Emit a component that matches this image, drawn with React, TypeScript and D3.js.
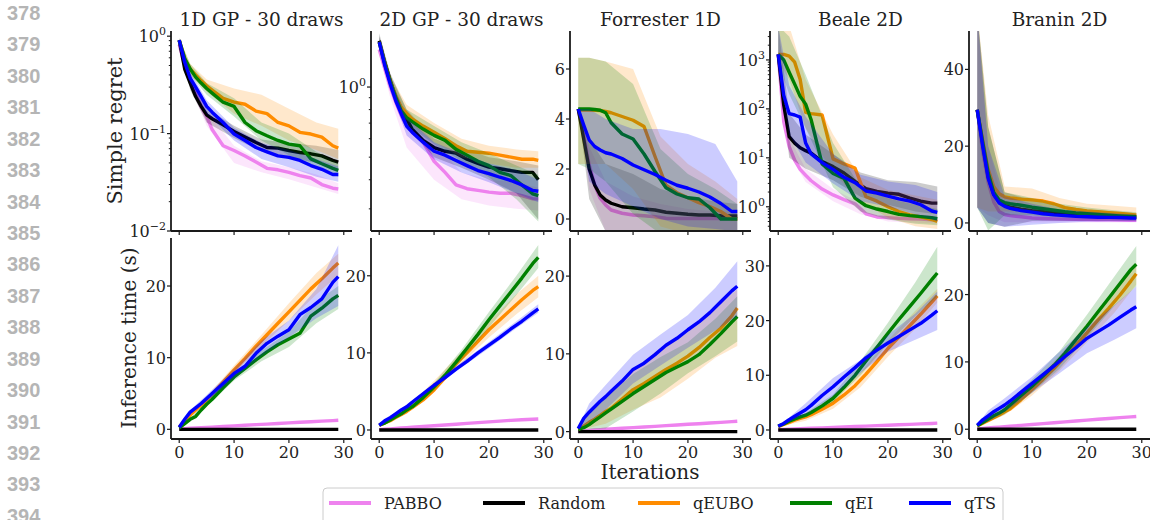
import React, { useRef, useEffect } from 'react';
import * as d3 from 'd3';

const METHODS = ['PABBO', 'Random', 'qEUBO', 'qEI', 'qTS'];
const COLORS = ['violet', 'black', 'darkorange', 'green', 'blue'];

// iterations at which the curves were read
const ITER = [0, 1, 2, 3, 4, 5, 6, 8, 10, 12, 14, 16, 18, 20, 22, 24, 26, 28, 29];
// iterations at which the shaded bands were read
const BAND_ITER = [0, 2, 5, 10, 15, 20, 25, 29];

const TITLES = ['1D GP - 30 draws', '2D GP - 30 draws', 'Forrester 1D', 'Beale 2D', 'Branin 2D'];
const LINE_NUMBERS = [378, 379, 380, 381, 382, 383, 384, 385, 386, 387, 388, 389, 390, 391, 392, 393, 394];

// ---- simple regret (top row), rows in METHODS order ----
const REGRET_GP1D = [
  [0.82, 0.5, 0.37, 0.26, 0.19, 0.15, 0.11, 0.075, 0.067, 0.059, 0.051, 0.044, 0.0425, 0.04, 0.037, 0.035, 0.03, 0.0275, 0.027],
  [0.91, 0.46, 0.33, 0.24, 0.19, 0.156, 0.142, 0.123, 0.105, 0.092, 0.081, 0.072, 0.071, 0.067, 0.064, 0.062, 0.059, 0.053, 0.051],
  [0.91, 0.59, 0.46, 0.4, 0.35, 0.31, 0.28, 0.23, 0.21, 0.2, 0.17, 0.16, 0.13, 0.12, 0.103, 0.099, 0.092, 0.075, 0.071],
  [0.91, 0.59, 0.46, 0.38, 0.33, 0.29, 0.26, 0.21, 0.19, 0.13, 0.107, 0.095, 0.085, 0.078, 0.075, 0.055, 0.049, 0.044, 0.042],
  [0.91, 0.54, 0.37, 0.3, 0.24, 0.19, 0.166, 0.13, 0.099, 0.085, 0.072, 0.065, 0.059, 0.057, 0.053, 0.047, 0.043, 0.038, 0.038],
];
const REGRET_GP1D_LO = [
  [0.78, 0.3, 0.12, 0.05, 0.04, 0.034, 0.028, 0.024],
  [0.85, 0.28, 0.13, 0.09, 0.065, 0.057, 0.05, 0.042],
  [0.85, 0.4, 0.27, 0.16, 0.12, 0.085, 0.068, 0.055],
  [0.85, 0.4, 0.25, 0.15, 0.085, 0.06, 0.045, 0.036],
  [0.85, 0.32, 0.16, 0.085, 0.055, 0.045, 0.036, 0.032],
];
const REGRET_GP1D_HI = [
  [0.86, 0.42, 0.17, 0.075, 0.052, 0.045, 0.038, 0.031],
  [0.95, 0.4, 0.18, 0.12, 0.087, 0.08, 0.075, 0.068],
  [0.95, 0.52, 0.36, 0.29, 0.25, 0.18, 0.13, 0.112],
  [0.95, 0.52, 0.33, 0.23, 0.13, 0.1, 0.065, 0.05],
  [0.95, 0.43, 0.22, 0.115, 0.08, 0.068, 0.055, 0.046],
];

const REGRET_GP2D = [
  [1.45, 1.2, 1.0, 0.86, 0.755, 0.68, 0.64, 0.58, 0.48, 0.43, 0.38, 0.366, 0.36, 0.354, 0.35, 0.35, 0.342, 0.331, 0.331],
  [1.58, 1.28, 1.07, 0.905, 0.81, 0.73, 0.66, 0.59, 0.55, 0.53, 0.52, 0.49, 0.47, 0.453, 0.446, 0.438, 0.43, 0.43, 0.4],
  [1.56, 1.26, 1.05, 0.92, 0.82, 0.77, 0.73, 0.68, 0.64, 0.6, 0.56, 0.53, 0.525, 0.52, 0.51, 0.5, 0.49, 0.49, 0.484],
  [1.56, 1.26, 1.05, 0.905, 0.79, 0.74, 0.71, 0.66, 0.62, 0.59, 0.54, 0.51, 0.48, 0.46, 0.43, 0.417, 0.38, 0.348, 0.342],
  [1.56, 1.24, 1.03, 0.875, 0.77, 0.68, 0.64, 0.58, 0.53, 0.51, 0.484, 0.46, 0.438, 0.425, 0.41, 0.397, 0.38, 0.36, 0.357],
];
const REGRET_GP2D_LO = [
  [1.4, 0.9, 0.55, 0.4, 0.33, 0.31, 0.3, 0.295],
  [1.5, 1.0, 0.68, 0.5, 0.45, 0.4, 0.35, 0.27],
  [1.5, 0.98, 0.72, 0.58, 0.5, 0.47, 0.45, 0.45],
  [1.5, 0.98, 0.69, 0.57, 0.48, 0.41, 0.33, 0.265],
  [1.5, 0.97, 0.62, 0.49, 0.43, 0.39, 0.35, 0.32],
];
const REGRET_GP2D_HI = [
  [1.5, 1.08, 0.78, 0.58, 0.43, 0.4, 0.39, 0.37],
  [1.7, 1.15, 0.8, 0.6, 0.55, 0.5, 0.48, 0.46],
  [1.65, 1.12, 0.84, 0.7, 0.6, 0.56, 0.54, 0.53],
  [1.65, 1.12, 0.8, 0.68, 0.58, 0.52, 0.46, 0.42],
  [1.65, 1.1, 0.74, 0.58, 0.52, 0.47, 0.44, 0.4],
];

const REGRET_FORR = [
  [4.4, 3.36, 2.16, 1.36, 0.83, 0.56, 0.36, 0.23, 0.16, 0.13, 0.09, 0.03, 0.02, 0.02, 0.02, 0.02, 0.02, 0.02, 0.02],
  [4.4, 3.2, 2.0, 1.36, 0.96, 0.76, 0.63, 0.49, 0.45, 0.4, 0.36, 0.27, 0.23, 0.19, 0.16, 0.16, 0.13, 0.12, 0.12],
  [4.36, 4.36, 4.36, 4.35, 4.34, 4.3, 4.25, 4.1, 3.95, 3.7, 2.5, 1.35, 1.05, 0.85, 0.65, 0.5, 0.3, 0.0, 0.0],
  [4.4, 4.4, 4.4, 4.38, 4.35, 4.25, 3.85, 3.4, 3.2, 2.6, 1.9, 1.25, 1.0, 0.85, 0.8, 0.45, 0.0, 0.0, 0.0],
  [4.4, 3.76, 3.16, 2.9, 2.76, 2.65, 2.6, 2.42, 2.16, 1.97, 1.78, 1.55, 1.35, 1.23, 1.08, 0.88, 0.62, 0.3, 0.3],
];
const REGRET_FORR_LO = [
  [4.4, 1.2, -0.5, -0.6, -0.6, -0.6, -0.6, -0.6],
  [4.4, 0.8, -0.5, -0.6, -0.6, -0.6, -0.6, -0.6],
  [2.2, 2.2, 2.2, 1.2, -0.3, -0.6, -0.6, -0.6],
  [2.2, 2.0, 1.5, 0.2, -0.6, -0.6, -0.6, -0.6],
  [4.4, 1.5, 1.0, 0.5, 0.0, -0.3, -0.4, -0.5],
];
const REGRET_FORR_HI = [
  [4.4, 2.9, 1.5, 0.9, 0.6, 0.4, 0.3, 0.3],
  [4.4, 3.2, 2.2, 1.8, 1.2, 0.9, 0.7, 0.6],
  [6.45, 6.45, 6.3, 6.0, 3.3, 2.2, 1.5, 0.8],
  [6.45, 6.45, 6.3, 5.4, 2.8, 1.8, 1.2, 0.6],
  [4.4, 4.4, 4.0, 3.6, 3.6, 3.4, 3.0, 1.5],
];

const REGRET_BEALE = [
  [1300, 55, 17, 9, 5.8, 4.4, 3.4, 2.3, 1.75, 1.4, 1.15, 0.72, 0.62, 0.6, 0.58, 0.57, 0.56, 0.54, 0.54],
  [1300, 120, 27, 20, 16, 14, 12.5, 8.4, 6.6, 4.9, 3.3, 2.35, 2.05, 1.9, 1.8, 1.5, 1.3, 1.19, 1.19],
  [1300, 1300, 1200, 900, 400, 85, 80, 75, 9.5, 7.5, 6.2, 1.6, 1.3, 1.0, 0.8, 0.68, 0.62, 0.55, 0.5],
  [1300, 1000, 560, 320, 180, 125, 60, 7.5, 4.8, 3.8, 1.5, 1.05, 0.9, 0.8, 0.7, 0.66, 0.63, 0.6, 0.57],
  [1300, 190, 80, 75, 68, 20, 12, 8, 5.8, 4.0, 3.1, 2.1, 1.9, 1.65, 1.45, 1.3, 1.1, 0.82, 0.77],
];
const REGRET_BEALE_LO = [
  [1300, 12, 3.2, 1.3, 0.7, 0.5, 0.47, 0.45],
  [1000, 10, 6, 3.5, 1.6, 1.1, 0.8, 0.7],
  [900, 400, 40, 5, 1.3, 0.6, 0.4, 0.35],
  [900, 200, 40, 2.5, 0.8, 0.55, 0.45, 0.42],
  [800, 30, 8, 3, 1.3, 1.0, 0.7, 0.5],
];
const REGRET_BEALE_HI = [
  [1300, 25, 6, 2.3, 1.2, 0.75, 0.7, 0.65],
  [5000, 80, 30, 12, 5, 3.5, 3.2, 2.6],
  [5000, 5000, 400, 30, 4, 2.2, 1.7, 1.4],
  [5000, 3000, 500, 20, 2.5, 1.5, 1.1, 0.9],
  [5000, 300, 70, 12, 4.5, 3.3, 2.8, 2.0],
];

const REGRET_BRANIN = [
  [29.5, 18.5, 10.5, 5.5, 3.0, 2.2, 1.9, 1.6, 1.3, 1.15, 1.05, 1.0, 0.95, 0.9, 0.85, 0.8, 0.75, 0.7, 0.7],
  [29.5, 20.5, 12, 7.5, 5.5, 4.6, 4.1, 3.6, 3.2, 2.9, 2.6, 2.3, 2.1, 1.9, 1.8, 1.7, 1.6, 1.5, 1.5],
  [29.5, 21.5, 14, 9.5, 7.6, 6.8, 6.5, 6.2, 6.0, 5.7, 5.0, 4.0, 3.5, 3.1, 2.9, 2.7, 2.5, 2.2, 2.0],
  [29.5, 21, 13, 8, 6, 5.3, 5, 4.6, 4.1, 3.7, 3.3, 2.9, 2.6, 2.4, 2.2, 2.0, 1.85, 1.7, 1.6],
  [29.5, 20, 11.6, 7.3, 5.2, 4.3, 3.8, 3.2, 2.8, 2.4, 2.1, 1.9, 1.7, 1.6, 1.5, 1.45, 1.4, 1.3, 1.25],
];
const REGRET_BRANIN_LO = [
  [4, 2, 0.2, 0.1, 0.1, 0.1, 0.1, 0.1],
  [4, 0, -1, 0.5, 0.5, 0.5, 0.5, 0.5],
  [4, 3, 3, 3, 2.5, 2, 1.5, 1.2],
  [4, -2, 2, 2, 1.5, 1.2, 1, 0.9],
  [4, 0, -1, -0.5, 0, 0.3, 0.4, 0.4],
];
const REGRET_BRANIN_HI = [
  [55, 20, 4, 2.5, 2, 1.8, 1.6, 1.5],
  [55, 25, 8, 6, 4.5, 3.5, 3, 2.5],
  [55, 28, 9.5, 9, 6.5, 5, 4.5, 4.0],
  [55, 25, 8, 6.5, 5, 4, 3.3, 2.8],
  [55, 20, 7, 5, 3.5, 3, 2.5, 2.2],
];

// ---- inference time in seconds (bottom row) ----
const TIME_GP1D = [
  [0.05, 0.1, 0.15, 0.19, 0.23, 0.27, 0.31, 0.4, 0.48, 0.57, 0.65, 0.73, 0.82, 0.9, 0.98, 1.06, 1.14, 1.22, 1.27],
  [0, 0, 0, 0, 0, 0, 0, 0, 0, 0, 0, 0, 0, 0, 0, 0, 0, 0, 0],
  [0.3, 1.2, 2.0, 2.7, 3.4, 4.1, 4.9, 6.6, 8.3, 9.9, 11.6, 13.2, 14.8, 16.4, 18.0, 19.6, 21.0, 22.5, 23.2],
  [0.2, 0.8, 1.4, 1.8, 2.7, 3.5, 4.2, 5.8, 7.3, 8.5, 9.7, 10.8, 11.8, 12.6, 13.4, 15.8, 16.9, 18.2, 18.7],
  [0.3, 1.4, 2.4, 3.0, 3.6, 4.3, 5.0, 6.4, 7.8, 8.8, 10.6, 12.0, 13.0, 13.9, 16.0, 17.0, 18.2, 20.5, 21.3],
];
const TIME_GP1D_LO = [
  null,
  null,
  [0.2, 1.8, 3.8, 7.8, 11.6, 15.2, 18.8, 21.5],
  [0.1, 1.2, 3.2, 6.8, 9.5, 11.5, 14.8, 16.8],
  [0.2, 2.1, 3.9, 7.1, 10.2, 12.8, 15.5, 17.2],
];
const TIME_GP1D_HI = [
  null,
  null,
  [0.4, 2.2, 4.5, 8.9, 13.2, 17.6, 21.8, 24.5],
  [0.3, 1.6, 3.8, 7.8, 11.0, 13.6, 17.8, 20.0],
  [0.4, 2.7, 4.8, 8.5, 12.4, 15.2, 19.6, 25.7],
];

const TIME_GP2D = [
  [0.05, 0.1, 0.15, 0.2, 0.25, 0.3, 0.35, 0.45, 0.55, 0.65, 0.75, 0.85, 0.95, 1.05, 1.15, 1.25, 1.32, 1.4, 1.43],
  [0, 0, 0, 0, 0, 0, 0, 0, 0, 0, 0, 0, 0, 0, 0, 0, 0, 0, 0],
  [0.6, 0.9, 1.2, 1.6, 2.0, 2.4, 2.9, 3.9, 5.2, 6.8, 8.6, 10.0, 11.5, 13.0, 14.3, 15.6, 16.9, 18.1, 18.6],
  [0.65, 0.9, 1.3, 1.7, 2.1, 2.6, 3.0, 4.2, 5.6, 7.1, 8.8, 10.6, 12.4, 14.3, 16.1, 17.9, 19.7, 21.6, 22.4],
  [0.6, 1.2, 1.6, 2.1, 2.6, 3.0, 3.6, 4.7, 5.8, 6.8, 7.9, 8.9, 10.0, 11.0, 12.0, 13.1, 14.1, 15.2, 15.7],
];
const TIME_GP2D_LO = [
  null,
  null,
  [0.5, 1.1, 2.1, 5.0, 8.6, 12.0, 15.0, 17.2],
  [0.55, 1.1, 2.3, 5.1, 9.0, 13.3, 17.5, 21.0],
  [0.5, 1.3, 2.8, 5.5, 8.1, 10.6, 13.2, 15.2],
];
const TIME_GP2D_HI = [
  null,
  null,
  [0.7, 1.5, 2.8, 6.4, 10.1, 14.0, 17.6, 20.0],
  [0.75, 1.5, 2.9, 6.1, 10.4, 15.3, 20.0, 24.0],
  [0.7, 1.7, 3.2, 6.1, 8.8, 11.4, 14.1, 16.3],
];

const TIME_FORR = [
  [0.05, 0.1, 0.15, 0.2, 0.25, 0.3, 0.35, 0.43, 0.51, 0.6, 0.68, 0.77, 0.85, 0.94, 1.02, 1.1, 1.19, 1.28, 1.33],
  [0, 0, 0, 0, 0, 0, 0, 0, 0, 0, 0, 0, 0, 0, 0, 0, 0, 0, 0],
  [0.3, 0.7, 1.2, 1.6, 2.1, 2.6, 3.0, 4.2, 5.4, 6.2, 7.1, 8.0, 8.8, 9.7, 10.8, 12.1, 13.3, 14.9, 15.9],
  [0.3, 0.5, 0.9, 1.4, 1.9, 2.4, 2.9, 3.9, 4.9, 5.8, 6.7, 7.6, 8.3, 9.0, 9.9, 11.2, 12.6, 14.1, 14.8],
  [0.4, 1.7, 2.5, 3.2, 3.9, 4.5, 5.2, 6.5, 8.0, 8.8, 9.9, 11.1, 12.0, 13.1, 14.1, 15.3, 16.7, 18.1, 18.7],
];
const TIME_FORR_LO = [
  null,
  null,
  [0.2, 0.5, 1.0, 2.8, 4.4, 6.8, 9.5, 11.0],
  [0.2, 0.3, 0.4, 2.6, 4.9, 7.5, 9.7, 11.6],
  [0.3, 1.2, 2.8, 6.2, 8.5, 10.8, 13.0, 14.8],
];
const TIME_FORR_HI = [
  null,
  null,
  [0.5, 2.5, 4.5, 8.0, 10.8, 13.0, 16.0, 18.3],
  [0.5, 2.2, 4.4, 7.4, 9.6, 11.5, 14.5, 17.4],
  [0.5, 3.6, 6.0, 9.9, 12.5, 15.0, 18.5, 21.9],
];

const TIME_BEALE = [
  [0.05, 0.1, 0.15, 0.19, 0.23, 0.27, 0.31, 0.39, 0.47, 0.55, 0.63, 0.71, 0.79, 0.87, 0.95, 1.03, 1.11, 1.19, 1.25],
  [0, 0, 0, 0, 0, 0, 0, 0, 0, 0, 0, 0, 0, 0, 0, 0, 0, 0, 0],
  [0.6, 1.0, 1.4, 1.8, 2.1, 2.4, 2.8, 3.8, 4.9, 6.4, 8.1, 10.2, 12.5, 14.9, 17.0, 19.1, 21.2, 23.4, 24.5],
  [0.7, 1.1, 1.6, 2.0, 2.4, 2.7, 3.2, 4.4, 5.8, 7.8, 10.0, 12.6, 15.1, 17.7, 20.2, 22.6, 25.0, 27.5, 28.7],
  [0.7, 1.2, 1.9, 2.5, 3.1, 3.7, 4.5, 6.3, 7.9, 9.7, 11.4, 13.2, 14.6, 15.9, 17.1, 18.3, 19.5, 21.0, 21.8],
];
const TIME_BEALE_LO = [
  null,
  null,
  [0.5, 1.0, 1.7, 3.9, 7.8, 13.4, 18.5, 23.3],
  [0.6, 1.3, 2.3, 5.1, 10.0, 15.8, 20.8, 24.4],
  [0.6, 1.5, 2.8, 6.1, 10.4, 14.3, 16.5, 18.3],
];
const TIME_BEALE_HI = [
  null,
  null,
  [0.7, 1.8, 3.0, 5.9, 10.5, 16.4, 21.8, 25.8],
  [0.8, 1.9, 3.1, 6.5, 12.6, 19.6, 27.0, 33.5],
  [0.8, 2.3, 4.9, 9.5, 12.8, 17.4, 21.3, 25.3],
];

const TIME_BRANIN = [
  [0.05, 0.12, 0.18, 0.25, 0.31, 0.38, 0.44, 0.57, 0.7, 0.83, 0.96, 1.09, 1.22, 1.35, 1.48, 1.6, 1.72, 1.84, 1.9],
  [0, 0, 0, 0, 0, 0, 0, 0, 0, 0, 0, 0, 0, 0, 0, 0, 0, 0, 0],
  [0.5, 0.9, 1.3, 1.7, 2.1, 2.6, 3.0, 4.4, 5.9, 7.4, 9.0, 10.8, 12.5, 14.3, 16.2, 18.0, 19.9, 22.0, 23.1],
  [0.5, 1.0, 1.5, 2.0, 2.4, 2.9, 3.6, 5.0, 6.4, 7.9, 9.5, 11.3, 13.3, 15.3, 17.4, 19.5, 21.6, 23.7, 24.5],
  [0.6, 1.4, 2.0, 2.6, 3.1, 3.6, 4.2, 5.5, 6.8, 8.1, 9.4, 10.8, 12.1, 13.5, 14.5, 15.5, 16.6, 17.7, 18.2],
];
const TIME_BRANIN_LO = [
  null,
  null,
  [0.4, 1.0, 2.1, 5.0, 8.7, 12.9, 17.3, 21.5],
  [0.4, 1.1, 2.2, 5.4, 9.0, 13.6, 18.3, 21.2],
  [0.5, 1.2, 2.6, 5.4, 8.3, 11.3, 13.3, 15.0],
];
const TIME_BRANIN_HI = [
  null,
  null,
  [0.6, 1.6, 3.1, 6.8, 10.9, 15.7, 20.7, 24.7],
  [0.6, 2.0, 3.6, 7.4, 11.6, 17.0, 22.7, 27.2],
  [0.7, 2.8, 4.6, 7.8, 11.5, 15.2, 18.4, 21.2],
];

const PANELS = [
  { row: 0, col: 0, mean: REGRET_GP1D, lo: REGRET_GP1D_LO, hi: REGRET_GP1D_HI, log: true, domain: [0.01, 1.13], ticks: [0.01, 0.1, 1] },
  { row: 0, col: 1, mean: REGRET_GP2D, lo: REGRET_GP2D_LO, hi: REGRET_GP2D_HI, log: true, domain: [0.241, 1.74], ticks: [1] },
  { row: 0, col: 2, mean: REGRET_FORR, lo: REGRET_FORR_LO, hi: REGRET_FORR_HI, log: false, domain: [-0.48, 7.52], ticks: [0, 2, 4, 6] },
  { row: 0, col: 3, mean: REGRET_BEALE, lo: REGRET_BEALE_LO, hi: REGRET_BEALE_HI, log: true, domain: [0.32, 3900], ticks: [1, 10, 100, 1000] },
  { row: 0, col: 4, mean: REGRET_BRANIN, lo: REGRET_BRANIN_LO, hi: REGRET_BRANIN_HI, log: false, domain: [-2.1, 50], ticks: [0, 20, 40] },
  { row: 1, col: 0, mean: TIME_GP1D, lo: TIME_GP1D_LO, hi: TIME_GP1D_HI, log: false, domain: [-1.35, 26.7], ticks: [0, 10, 20] },
  { row: 1, col: 1, mean: TIME_GP2D, lo: TIME_GP2D_LO, hi: TIME_GP2D_HI, log: false, domain: [-1.17, 24.9], ticks: [0, 10, 20] },
  { row: 1, col: 2, mean: TIME_FORR, lo: TIME_FORR_LO, hi: TIME_FORR_HI, log: false, domain: [-0.95, 24.9], ticks: [0, 10, 20] },
  { row: 1, col: 3, mean: TIME_BEALE, lo: TIME_BEALE_LO, hi: TIME_BEALE_HI, log: false, domain: [-1.65, 35.1], ticks: [0, 10, 20, 30] },
  { row: 1, col: 4, mean: TIME_BRANIN, lo: TIME_BRANIN_LO, hi: TIME_BRANIN_HI, log: false, domain: [-1.45, 28.4], ticks: [0, 10, 20] },
];

const SERIF = "'DejaVu Serif', serif";

function App() {
  const svgRef = useRef<SVGSVGElement>(null);

  useEffect(() => {
    const width = 1150;
    const height = 520;
    const colLeft = [171, 371, 570, 770, 969];
    const panelW = 181;
    const rows = [{ top: 31, bottom: 231 }, { top: 238, bottom: 439 }];

    const svg = d3.select(svgRef.current);
    svg.selectAll('*').remove();
    svg.attr('width', width).attr('height', height).attr('viewBox', [0, 0, width, height]);

    // manuscript line numbers
    svg.append('g')
      .selectAll('text')
      .data(LINE_NUMBERS)
      .join('text')
      .attr('x', 7)
      .attr('y', (d, i) => 20 + i * 31.43)
      .attr('font-family', "'Liberation Sans', Arial, sans-serif")
      .attr('font-weight', 'bold')
      .attr('font-size', 20)
      .attr('fill', '#b5b5b5')
      .text(d => d);

    PANELS.forEach((p, pi) => {
      const left = colLeft[p.col];
      const { top, bottom } = rows[p.row];
      const x = d3.scaleLinear().domain([-1.5, 31.5]).range([left, left + panelW]);
      const y = (p.log ? d3.scaleLog() : d3.scaleLinear()).domain(p.domain).range([bottom, top]);

      const g = svg.append('g');
      const clipId = `clip-${pi}`;
      g.append('clipPath').attr('id', clipId)
        .append('rect').attr('x', left).attr('y', top).attr('width', panelW).attr('height', bottom - top);

      const plot = g.append('g').attr('clip-path', `url(#${clipId})`);

      const line = d3.line<number>()
        .x((d, i) => x(ITER[i]))
        .y(d => y(d));

      METHODS.forEach((m, mi) => {
        const lo = p.lo[mi];
        const hi = p.hi[mi];
        if (lo && hi) {
          const band = d3.area<number>()
            .x((d, i) => x(BAND_ITER[i]))
            .y0((d, i) => y(lo[i]))
            .y1((d, i) => y(hi[i]));
          plot.append('path')
            .attr('d', band(lo))
            .attr('fill', COLORS[mi])
            .attr('fill-opacity', 0.2);
        }
        plot.append('path')
          .attr('d', line(p.mean[mi]))
          .attr('fill', 'none')
          .attr('stroke', COLORS[mi])
          .attr('stroke-width', 3.4)
          .attr('stroke-linejoin', 'round');
      });

      // spines
      g.append('line').attr('x1', left).attr('x2', left).attr('y1', top).attr('y2', bottom)
        .attr('stroke', '#1a1a1a').attr('stroke-width', 1.8);
      g.append('line').attr('x1', left).attr('x2', left + panelW).attr('y1', bottom).attr('y2', bottom)
        .attr('stroke', '#1a1a1a').attr('stroke-width', 1.8);

      // x ticks
      const xt = g.append('g');
      [0, 10, 20, 30].forEach(t => {
        xt.append('line').attr('x1', x(t)).attr('x2', x(t)).attr('y1', bottom).attr('y2', bottom + 4)
          .attr('stroke', '#1a1a1a').attr('stroke-width', 1.2);
        if (p.row === 1) {
          xt.append('text').attr('x', x(t)).attr('y', bottom + 19)
            .attr('text-anchor', 'middle').attr('font-family', SERIF).attr('font-size', 16)
            .attr('fill', '#222').text(t);
        }
      });

      // y ticks
      const yt = g.append('g');
      if (p.log) {
        const [d0, d1] = p.domain;
        const minor: number[] = [];
        for (let e = Math.floor(Math.log10(d0)); e <= Math.ceil(Math.log10(d1)); e++) {
          for (let k = 2; k <= 9; k++) {
            const v = k * Math.pow(10, e);
            if (v >= d0 && v <= d1) minor.push(v);
          }
        }
        minor.forEach(v => {
          yt.append('line').attr('x1', left - 2.2).attr('x2', left).attr('y1', y(v)).attr('y2', y(v))
            .attr('stroke', '#1a1a1a').attr('stroke-width', 1);
        });
      }
      p.ticks.forEach(t => {
        yt.append('line').attr('x1', left - 4).attr('x2', left).attr('y1', y(t)).attr('y2', y(t))
          .attr('stroke', '#1a1a1a').attr('stroke-width', 1.2);
        const label = yt.append('text').attr('x', left - 5).attr('y', y(t) + 6)
          .attr('text-anchor', 'end').attr('font-family', SERIF).attr('font-size', 16).attr('fill', '#222');
        if (p.log) {
          const e = Math.round(Math.log10(t));
          label.append('tspan').text('10');
          label.append('tspan').attr('dy', -7).attr('font-size', 11)
            .text(e < 0 ? `\u2212${-e}` : `${e}`);
        } else {
          label.text(t);
        }
      });

      if (p.row === 0) {
        g.append('text').attr('x', left + panelW / 2).attr('y', 26)
          .attr('text-anchor', 'middle').attr('font-family', SERIF).attr('font-size', 18.5)
          .attr('fill', '#222').text(TITLES[p.col]);
      }
    });

    // axis labels
    svg.append('text')
      .attr('transform', 'translate(122,131) rotate(-90)')
      .attr('text-anchor', 'middle').attr('font-family', SERIF).attr('font-size', 21)
      .attr('fill', '#222').text('Simple regret');
    svg.append('text')
      .attr('transform', 'translate(136,338) rotate(-90)')
      .attr('text-anchor', 'middle').attr('font-family', SERIF).attr('font-size', 20)
      .attr('fill', '#222').text('Inference time (s)');
    svg.append('text')
      .attr('x', 650).attr('y', 479)
      .attr('text-anchor', 'middle').attr('font-family', SERIF).attr('font-size', 20)
      .attr('fill', '#222').text('Iterations');

    // legend
    const legendX = [329, 483, 638, 790, 909];
    const legend = svg.append('g');
    legend.append('rect')
      .attr('x', 323).attr('y', 488).attr('width', 680).attr('height', 45).attr('rx', 4)
      .attr('fill', 'white').attr('stroke', '#cccccc').attr('stroke-width', 1);
    METHODS.forEach((m, mi) => {
      legend.append('line')
        .attr('x1', legendX[mi]).attr('x2', legendX[mi] + 42)
        .attr('y1', 503).attr('y2', 503)
        .attr('stroke', COLORS[mi]).attr('stroke-width', 4);
      legend.append('text')
        .attr('x', legendX[mi] + 55).attr('y', 509)
        .attr('font-family', SERIF).attr('font-size', 16).attr('fill', '#222')
        .text(m);
    });
  }, []);

  return (
    <svg ref={svgRef} style={{ position: 'absolute', left: 0, top: 0, background: 'white' }} />
  );
}

export default App;
